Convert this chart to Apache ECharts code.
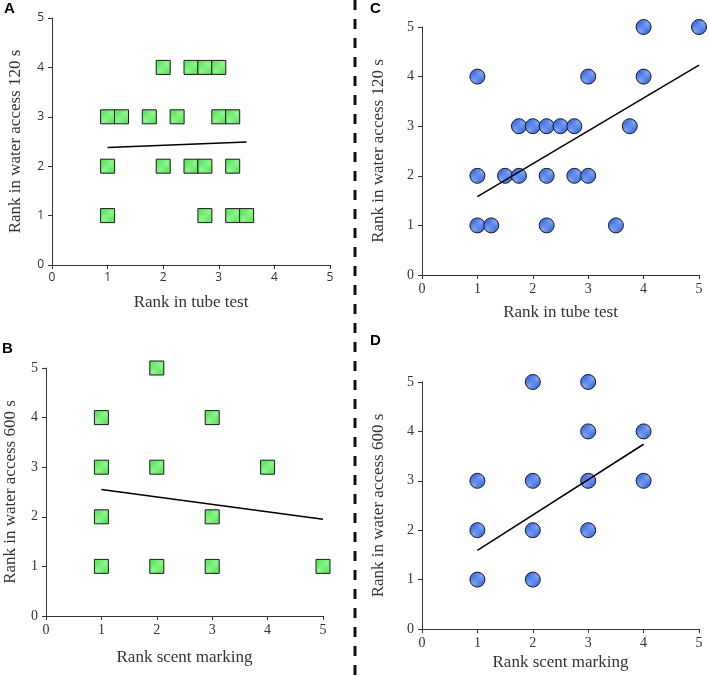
<!DOCTYPE html>
<html><head><meta charset="utf-8">
<script src="https://cdn.jsdelivr.net/npm/echarts@6/dist/echarts.min.js"></script>
<style>html,body{margin:0;padding:0;background:#fff}#c{width:709px;height:676px}</style>
</head><body><div id="c"></div>
<script>
// Panel A: tube test vs water access 120 s (squares)
const aX = [2, 2.5, 2.75, 3, 1, 1.25, 1.75, 2.25, 3, 3.25, 1, 2, 2.5, 2.75, 3.25, 1, 2.75, 3.25, 3.5];
const aY = [4, 4, 4, 4, 3, 3, 3, 3, 3, 3, 2, 2, 2, 2, 2, 1, 1, 1, 1];
const aTrend = [[1, 2.38], [3.5, 2.49]];
// Panel B: scent marking vs water access 600 s (squares)
const bX = [2, 1, 3, 1, 2, 4, 1, 3, 1, 2, 3, 5];
const bY = [5, 4, 4, 3, 3, 3, 2, 2, 1, 1, 1, 1];
const bTrend = [[1, 2.55], [5, 1.95]];
// Panel C: tube test vs water access 120 s (circles)
const cX = [4, 5, 1, 3, 4, 1.75, 2, 2.25, 2.5, 2.75, 3.75, 1, 1.5, 1.75, 2.25, 2.75, 3, 1, 1.25, 2.25, 3.5];
const cY = [5, 5, 4, 4, 4, 3, 3, 3, 3, 3, 3, 2, 2, 2, 2, 2, 2, 1, 1, 1, 1];
const cTrend = [[1, 1.58], [5, 4.23]];
// Panel D: scent marking vs water access 600 s (circles)
const dX = [2, 3, 3, 4, 1, 2, 3, 4, 1, 2, 3, 1, 2];
const dY = [5, 5, 4, 4, 3, 3, 3, 3, 2, 2, 2, 1, 1];
const dTrend = [[1, 1.59], [4, 3.74]];
const ticks = [0, 1, 2, 3, 4, 5];
const xTitles = ['Rank in tube test', 'Rank scent marking', 'Rank in tube test', 'Rank scent marking'];
const yTitles = ['Rank in water access 120 s', 'Rank in water access 600 s', 'Rank in water access 120 s', 'Rank in water access 600 s'];

function hatch(base, stripe) {
  const c = document.createElement('canvas');
  c.width = 4; c.height = 4;
  const g = c.getContext('2d');
  g.fillStyle = base; g.fillRect(0, 0, 4, 4);
  g.strokeStyle = stripe; g.lineWidth = 1;
  g.beginPath(); g.moveTo(0, 4); g.lineTo(4, 0); g.moveTo(-1, 1); g.lineTo(1, -1); g.moveTo(3, 5); g.lineTo(5, 3); g.stroke();
  return c;
}
const greenPat = {image: hatch('#62ea62', '#98f598'), repeat: 'repeat'};
const bluePat = {image: hatch('#4272e6', '#86a6f2'), repeat: 'repeat'};

const serif = 'Liberation Serif';
const grids = [
  {left: 52, top: 18, width: 278, height: 247},
  {left: 46, top: 368, width: 277, height: 248},
  {left: 422, top: 27, width: 277, height: 248},
  {left: 422, top: 382, width: 277, height: 247}
];
const tickFonts = ['Open Sans', serif, serif, serif];
const tickSizes = [12, 14, 14, 14];
const xGaps = [29, 33, 29, 25];
const yGaps = [28, 27, 35, 35];
const xAxes = grids.map((g, i) => ({
  gridIndex: i, type: 'value', min: 0, max: 5, interval: 1,
  name: xTitles[i], nameLocation: 'middle', nameGap: xGaps[i],
  nameTextStyle: {fontFamily: serif, fontSize: 17, color: '#333'},
  axisLine: {show: true, onZero: false, lineStyle: {color: '#333', width: 1}},
  axisTick: {show: true, length: 4, lineStyle: {color: '#333'}},
  axisLabel: {fontFamily: tickFonts[i], fontSize: tickSizes[i], color: '#333', margin: 7},
  splitLine: {show: false}
}));
const yAxes = grids.map((g, i) => ({
  gridIndex: i, type: 'value', min: 0, max: 5, interval: 1,
  name: yTitles[i], nameLocation: 'middle', nameGap: yGaps[i],
  nameTextStyle: {fontFamily: serif, fontSize: 17, color: '#333'},
  axisLine: {show: true, onZero: false, lineStyle: {color: '#333', width: 1}},
  axisTick: {show: true, length: 4, lineStyle: {color: '#333'}},
  axisLabel: {fontFamily: tickFonts[i], fontSize: tickSizes[i], color: '#333', margin: 8},
  splitLine: {show: false}
}));

function pts(xs, ys) { return xs.map((x, k) => [x, ys[k]]); }
const sets = [[aX, aY, aTrend, 'rect'], [bX, bY, bTrend, 'rect'], [cX, cY, cTrend, 'circle'], [dX, dY, dTrend, 'circle']];
const series = [];
sets.forEach((s, i) => {
  series.push({
    type: 'scatter', xAxisIndex: i, yAxisIndex: i, data: pts(s[0], s[1]),
    symbol: s[3], symbolSize: s[3] === 'rect' ? 14 : 15,
    itemStyle: {color: s[3] === 'rect' ? greenPat : bluePat, borderColor: '#1a1a1a', borderWidth: 1, opacity: 1},
    z: 2
  });
  series.push({
    type: 'line', xAxisIndex: i, yAxisIndex: i, data: s[2], symbol: 'none',
    lineStyle: {color: '#000', width: 1.5}, z: 3, silent: true
  });
});

const chart = echarts.init(document.getElementById('c'), null, {renderer: 'canvas'});
chart.setOption({
  animation: false,
  backgroundColor: '#fff',
  grid: grids,
  xAxis: xAxes,
  yAxis: yAxes,
  series: series,
  graphic: [
    {type: 'line', shape: {x1: 355, y1: 0, x2: 355, y2: 676}, style: {stroke: '#111', lineWidth: 3, lineDash: [10, 9]}},
    {type: 'text', left: 4, top: 1, style: {text: 'A', font: 'bold 15px "Liberation Sans"', fill: '#000'}},
    {type: 'text', left: 2, top: 341, style: {text: 'B', font: 'bold 15px "Liberation Sans"', fill: '#000'}},
    {type: 'text', left: 370, top: 1, style: {text: 'C', font: 'bold 15px "Liberation Sans"', fill: '#000'}},
    {type: 'text', left: 370, top: 333, style: {text: 'D', font: 'bold 15px "Liberation Sans"', fill: '#000'}}
  ]
});
</script></body></html>
